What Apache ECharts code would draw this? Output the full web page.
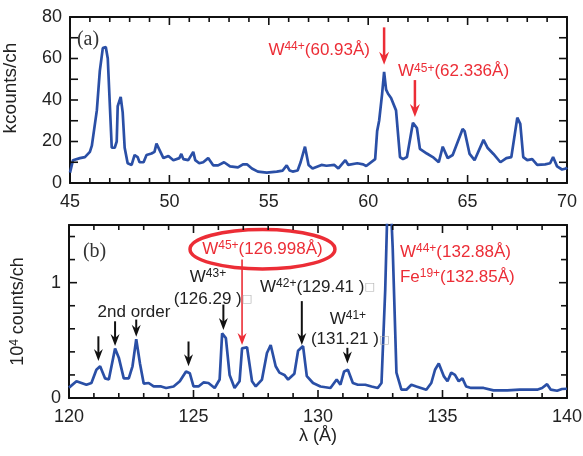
<!DOCTYPE html>
<html><head><meta charset="utf-8">
<script src="https://cdn.jsdelivr.net/npm/echarts@6/dist/echarts.min.js"></script>
<style>html,body{margin:0;padding:0;background:#fff}#c{width:583px;height:456px}</style>
</head><body><div id="c"></div>
<script>
// Panel (a): wavelength (Å) and kcounts/ch
const topX = [45.0,45.15,45.5,45.75,45.85,46.0,46.1,46.35,46.5,46.65,46.8,46.9,47.1,47.25,47.35,47.4,47.55,47.65,47.75,47.9,48.1,48.25,48.4,48.5,48.7,48.85,49.1,49.25,49.35,49.5,49.7,49.95,50.2,50.5,50.6,50.7,50.95,51.2,51.3,51.5,51.7,51.95,52.2,52.45,52.75,53.05,53.45,53.7,53.9,54.15,54.45,54.9,55.4,55.7,55.9,56.05,56.2,56.45,56.6,56.82,57.0,57.2,57.65,57.9,58.3,58.5,58.85,59.0,59.45,59.75,59.9,60.35,60.45,60.55,60.7,60.8,60.9,61.0,61.15,61.25,61.4,61.6,61.75,61.95,62.25,62.45,62.6,62.95,63.25,63.55,63.75,64.0,64.25,64.75,64.85,65.1,65.35,65.8,66.0,66.3,66.65,66.95,67.2,67.5,67.65,67.8,68.0,68.25,68.5,68.9,69.15,69.3,69.5,69.75,69.95,70.0];
const topY = [5,11,12,12.5,12,15,18,35,54,65,65.5,60,17,17,20,37,41.5,34,17,9.5,8.7,13.5,12.5,10,10,13.5,14.2,15,19,16,12,13,11,12,14,11.5,11,15,11,9.5,10,12,8.5,8.5,10,8,7.5,9,9,7,5.5,5,5.5,6,8.5,6,5.5,6,10,17.5,8.7,7,8.7,8.3,8.7,7,11,8.7,9.5,9,8.2,11.5,25,30,43,53.5,45,43,41,41.5,35,12.5,11.5,12.5,29,26.5,16.5,14.2,12.5,10,17.5,12,13.5,26,25,14,11,20.8,17,14,10,12,12.5,31.5,28.5,12.5,11,11.5,8.7,9,9.5,12.5,8,6.5,7,7.5];
// Panel (b): wavelength (Å) and 10^4 counts/ch
const botX = [120.0,120.05,120.3,120.7,120.9,121.1,121.25,121.45,121.6,121.85,122.0,122.2,122.4,122.55,122.7,122.85,123.0,123.2,123.4,123.7,123.9,124.2,124.45,124.7,124.85,125.0,125.2,125.4,125.6,125.85,126.05,126.15,126.3,126.45,126.65,126.85,126.95,127.15,127.35,127.5,127.75,127.95,128.1,128.3,128.45,128.65,128.8,129.05,129.2,129.4,129.55,129.8,130.1,130.5,130.75,130.9,131.05,131.2,131.4,131.6,131.9,132.15,132.4,132.55,132.7,132.8,132.9,133.0,133.15,133.35,133.55,133.75,133.95,134.35,134.55,134.7,134.85,135.05,135.2,135.35,135.5,135.65,135.8,135.95,136.15,136.65,137.05,137.6,138.1,138.8,139.0,139.2,139.35,139.6,139.8,140.0];
const botY = [0.09,0.10,0.145,0.115,0.13,0.245,0.275,0.17,0.16,0.43,0.35,0.17,0.17,0.275,0.51,0.30,0.125,0.13,0.10,0.10,0.087,0.10,0.145,0.23,0.215,0.10,0.10,0.135,0.13,0.087,0.16,0.56,0.52,0.20,0.087,0.145,0.43,0.44,0.145,0.10,0.16,0.39,0.46,0.275,0.22,0.20,0.16,0.21,0.41,0.45,0.19,0.13,0.10,0.087,0.16,0.115,0.23,0.245,0.13,0.115,0.115,0.10,0.087,0.13,0.94,1.75,1.8,1.3,0.22,0.072,0.072,0.115,0.10,0.072,0.13,0.245,0.30,0.19,0.145,0.22,0.20,0.145,0.17,0.10,0.087,0.087,0.066,0.066,0.072,0.072,0.087,0.12,0.072,0.063,0.078,0.08];
// Tick positions (major = labelled)
const topXMajor = [45,50,55,60,65,70];
const topXMinor = [46,47,48,49,51,52,53,54,56,57,58,59,61,62,63,64,66,67,68,69];
const topYTicks = [0,10,20,30,40,50,60,70,80];
const botXMajor = [120,125,130,135,140];
const botXMinor = [121,122,123,124,126,127,128,129,131,132,133,134,136,137,138,139];
const botYMajor = [0,1];
const botYMinor = [0.2,0.4,0.6,0.8,1.2,1.4];
// Annotation arrows: [x, yStart, yEnd]
const topRedArrows = [[60.8,75,57],[62.35,49.6,31.8]];
const botBlackArrows = [[121.18,0.535,0.32],[121.85,0.665,0.45],[122.7,0.68,0.53],[124.8,0.49,0.275],[126.2,0.81,0.59],[129.35,0.84,0.46],[131.18,0.435,0.30]];
const botRedArrow = [126.95,1.2,0.46];

const BLUE = '#2a4fa6', RED = '#ec2d36', INK = '#111111';
const FONT = 'Liberation Sans';

function xAx(grid, min, max, pos, show, extra) {
  return Object.assign({type:'value', gridIndex:grid, min:min, max:max, interval:5, position:pos,
    axisLine:{show:true, onZero:false, lineStyle:{color:INK, width:2}},
    axisTick:{show:false}, minorTick:{show:false},
    splitLine:{show:false},
    axisLabel:{show:show, color:'#222', fontSize:18, fontFamily:FONT, margin:10}}, extra||{});
}
function yAx(grid, min, max, interval, pos, show, fmt, extra) {
  return Object.assign({type:'value', gridIndex:grid, min:min, max:max, interval:interval, position:pos,
    axisLine:{show:true, onZero:false, lineStyle:{color:INK, width:2}},
    axisTick:{show:false}, splitLine:{show:false},
    axisLabel:{show:show, color:'#222', fontSize:18, fontFamily:FONT, margin:8, formatter:fmt, showMaxLabel:true}}, extra||{});
}

const chart = echarts.init(document.getElementById('c'), null, {renderer:'canvas'});
chart.setOption({
  animation:false,
  backgroundColor:'#fff',
  grid:[{left:70, top:17, width:497, height:166, outerBoundsMode:'none', containLabel:false},
        {left:69, top:225, width:498, height:173, outerBoundsMode:'none', containLabel:false}],
  xAxis:[
    xAx(0,45,70,'bottom',true),
    xAx(0,45,70,'top',false),
    xAx(1,120,140,'bottom',true,{name:'λ (Å)', nameLocation:'middle', nameGap:24, nameTextStyle:{fontSize:18, color:'#222', fontFamily:FONT}}),
    xAx(1,120,140,'top',false)
  ],
  yAxis:[
    yAx(0,0,80,10,'left',true,function(v){return v%20===0?String(v):'';},
      {name:'kcounts/ch', nameLocation:'middle', nameGap:50, nameTextStyle:{fontSize:19, color:'#222', fontFamily:FONT, padding:[0,0,0,24]}}),
    yAx(0,0,80,10,'right',false),
    yAx(1,0,1.5,0.2,'left',true,function(v){return (Math.abs(v)<1e-9)?'0':(Math.abs(v-1)<1e-9?'1':'');},
      {name:'10{s|4} counts/ch', nameLocation:'middle', nameGap:42,
       nameTextStyle:{fontSize:18, color:'#222', fontFamily:FONT, rich:{s:{fontSize:12, color:'#222', fontFamily:FONT, verticalAlign:'top', lineHeight:18}}}}),
    yAx(1,0,1.5,0.2,'right',false)
  ],
  series:[
    {type:'line', xAxisIndex:0, yAxisIndex:0, data:topX.map(function(x,i){return [x,topY[i]];}),
     symbol:'none', clip:true, lineStyle:{color:BLUE, width:2.7}, z:5},
    {type:'line', xAxisIndex:2, yAxisIndex:2, data:botX.map(function(x,i){return [x,botY[i]];}),
     symbol:'none', clip:true, lineStyle:{color:BLUE, width:2.7}, z:5}
  ]
});

function P(s, x, y) { return chart.convertToPixel({seriesIndex:s}, [x, y]); }

const g = [];
// inward ticks on all four sides, each one placed through the axis scale
function seg(x1, y1, x2, y2) {
  g.push({type:'line', z:45, shape:{x1:x1, y1:y1, x2:x2, y2:y2}, style:{stroke:'#111', lineWidth:1.6}});
}
function xTicks(s, vals, yr, L) {
  vals.forEach(function(v){
    const b = P(s, v, yr[0]), t = P(s, v, yr[1]);
    seg(b[0], b[1], b[0], b[1]-L);
    seg(t[0], t[1], t[0], t[1]+L);
  });
}
function yTicks(s, vals, xr, L) {
  vals.forEach(function(v){
    const l = P(s, xr[0], v), r = P(s, xr[1], v);
    seg(l[0], l[1], l[0]+L, l[1]);
    seg(r[0], r[1], r[0]-L, r[1]);
  });
}
xTicks(0, topXMajor, [0,80], 8);
xTicks(0, topXMinor, [0,80], 5);
yTicks(0, topYTicks, [45,70], 8);
xTicks(1, botXMajor, [0,1.5], 8);
xTicks(1, botXMinor, [0,1.5], 5);
yTicks(1, botYMajor, [120,140], 8);
yTicks(1, botYMinor, [120,140], 6);

function arrow(s, a, color, w, hw, hl) {
  const p = P(s, a[0], a[1]), q = P(s, a[0], a[2]);
  g.push({type:'line', z:30, shape:{x1:p[0], y1:p[1], x2:q[0], y2:q[1]-hl*0.6}, style:{stroke:color, lineWidth:w}});
  g.push({type:'polygon', z:30, shape:{points:[[q[0],q[1]],[q[0]-hw/2,q[1]-hl],[q[0],q[1]-hl*0.68],[q[0]+hw/2,q[1]-hl]]}, style:{fill:color}});
}
const SUP = function(c){ return {s:{fontSize:12, fontFamily:FONT, fill:c, verticalAlign:'top', lineHeight:14}, n:{fontSize:17, fontFamily:FONT, fill:c, lineHeight:19}, b:{fontSize:11, fontFamily:'DejaVu Sans', fill:'#b0b0b0', lineHeight:19}}; };
function txt(s, x, y, text, color, align, extra) {
  const p = P(s, x, y);
  g.push({type:'text', z:40, x:p[0], y:p[1],
    style:Object.assign({text:text, fill:color, font:'17px "'+FONT+'"', align:align||'center', verticalAlign:'middle', rich:SUP(color)}, extra||{})});
}

topRedArrows.forEach(function(a){ arrow(0, a, RED, 2.5, 10, 13); });
botBlackArrows.forEach(function(a){ arrow(1, a, '#111', 2, 9, 12); });
arrow(1, botRedArrow, RED, 1.6, 9, 12);

// ellipse around the W45+ label
const ec = P(1, 127.77, 1.29), el = P(1, 124.86, 1.29), et = P(1, 127.77, 1.461);
g.push({type:'ellipse', z:35, shape:{cx:ec[0], cy:ec[1], rx:ec[0]-el[0], ry:ec[1]-et[1]}, style:{stroke:RED, lineWidth:3.5, fill:null}});

// panel labels
txt(0, 45.35, 68.9, '(a)', '#333', 'left', {font:'20px "Liberation Serif"', rich:{}});
txt(1, 120.56, 1.27, '(b)', '#333', 'left', {font:'20px "Liberation Serif"', rich:{}});
// panel (a) red labels
txt(0, 60.09, 64.1, '{n|W}{s|44+}{n|(60.93Å)}', RED, 'right');
txt(0, 61.5, 53.6, '{n|W}{s|45+}{n|(62.336Å)}', RED, 'left');
// panel (b)
txt(1, 122.61, 0.74, '{n|2nd order}', '#222');
txt(1, 125.58, 1.045, '{n|W}{s|43+}', '#222');
txt(1, 125.78, 0.853, '{n|(126.29 )}{b|□}', '#222');
txt(1, 127.67, 0.957, '{n|W}{s|42+}{n|(129.41 )}{b|□}', '#222', 'left');
txt(1, 131.2, 0.68, '{n|W}{s|41+}', '#222');
txt(1, 131.29, 0.506, '{n|(131.21 )}{b|□}', '#222');
txt(1, 133.29, 1.26, '{n|W}{s|44+}{n|(132.88Å)}', RED, 'left');
txt(1, 133.29, 1.05, '{n|Fe}{s|19+}{n|(132.85Å)}', RED, 'left');
txt(1, 127.77, 1.29, '{n|W}{s|45+}{n|(126.998Å)}', RED, 'center');

chart.setOption({graphic:g});
</script></body></html>
